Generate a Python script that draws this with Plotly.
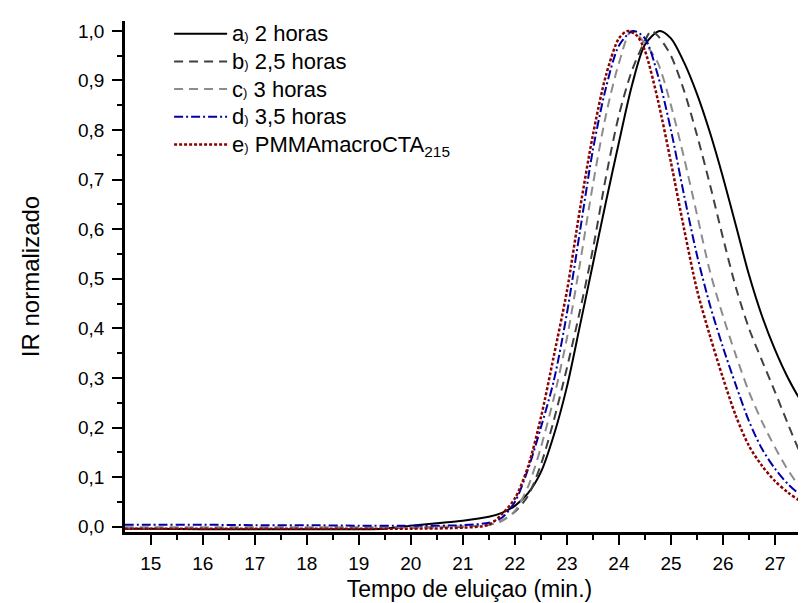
import plotly.graph_objects as go

# ---- data (elution time in min, normalized RI) ----
x_a = [14.5, 15, 16, 17, 18, 19, 19.5, 20, 20.5, 21, 21.5, 21.75, 22.0, 22.25, 22.5, 22.75, 23.0, 23.25,
       23.5, 23.75, 24.0, 24.25, 24.5, 24.78, 25.0, 25.25, 25.5, 25.75, 26.0, 26.25, 26.5, 26.75, 27.0,
       27.25, 27.5, 27.75]
y_a = [-0.004, -0.004, -0.005, -0.005, -0.005, -0.005, -0.004, 0.002, 0.007, 0.012, 0.02, 0.028, 0.042,
       0.067, 0.11, 0.185, 0.282, 0.405, 0.53, 0.655, 0.775, 0.89, 0.972, 1.0, 0.985, 0.937, 0.873, 0.795,
       0.705, 0.607, 0.508, 0.425, 0.357, 0.3, 0.254, 0.22]

x_b = [14.5, 15, 16, 17, 18, 19, 20, 21, 21.5, 21.75, 22.0, 22.25, 22.5, 22.75, 23.0, 23.25, 23.5,
       23.75, 24.0, 24.25, 24.5, 24.62, 24.75, 25.0, 25.25, 25.5, 25.75, 26.0, 26.25, 26.5, 26.75, 27.0,
       27.25, 27.5, 27.75]
y_b = [-0.003, -0.003, -0.003, -0.003, -0.003, -0.003, -0.002, 0.0, 0.004, 0.012, 0.03, 0.062, 0.125,
       0.215, 0.32, 0.435, 0.56, 0.705, 0.83, 0.92, 0.98, 1.0, 0.99, 0.95, 0.88, 0.79, 0.69, 0.583, 0.482,
       0.4, 0.335, 0.272, 0.207, 0.145, 0.095]

x_c = [14.5, 15, 16, 17, 18, 19, 20, 21, 21.5, 21.75, 22.0, 22.25, 22.5, 22.75, 23.0, 23.25, 23.5,
       23.75, 24.0, 24.24, 24.5, 24.75, 25.0, 25.25, 25.5, 25.75, 26.0, 26.25, 26.5, 26.75, 27.0, 27.25,
       27.5, 27.75]
y_c = [-0.001, -0.001, -0.001, -0.001, -0.001, -0.001, -0.001, 0.001, 0.004, 0.012, 0.032, 0.08, 0.16,
       0.26, 0.38, 0.53, 0.69, 0.83, 0.935, 1.0, 0.975, 0.935, 0.85, 0.745, 0.63, 0.515, 0.425, 0.345,
       0.272, 0.212, 0.16, 0.114, 0.078, 0.055]

x_d = [14.5, 15, 16, 17, 18, 19, 20, 21, 21.5, 21.75, 22.0, 22.25, 22.5, 22.75, 23.0, 23.25, 23.5,
       23.75, 24.0, 24.27, 24.5, 24.75, 25.0, 25.25, 25.5, 25.75, 26.0, 26.25, 26.5, 26.75, 27.0, 27.25,
       27.5, 27.75]
y_d = [0.004, 0.004, 0.004, 0.003, 0.003, 0.002, 0.002, 0.003, 0.008, 0.018, 0.05, 0.115, 0.2, 0.295,
       0.43, 0.595, 0.76, 0.885, 0.97, 1.0, 0.985, 0.91, 0.8, 0.67, 0.548, 0.447, 0.362, 0.285, 0.213,
       0.157, 0.117, 0.086, 0.063, 0.046]

x_e = [14.5, 15, 16, 17, 18, 19, 20, 21, 21.5, 21.75, 22.0, 22.25, 22.5, 22.75, 23.0, 23.25, 23.5,
       23.75, 24.0, 24.17, 24.35, 24.5, 24.75, 25.0, 25.25, 25.5, 25.75, 26.0, 26.25, 26.5, 26.75, 27.0,
       27.25, 27.5, 27.75]
y_e = [-0.004, -0.004, -0.004, -0.004, -0.004, -0.004, -0.004, -0.002, 0.004, 0.025, 0.057, 0.12, 0.22,
       0.345, 0.475, 0.64, 0.79, 0.91, 0.985, 1.0, 0.99, 0.96, 0.86, 0.735, 0.602, 0.478, 0.385, 0.3,
       0.223, 0.163, 0.123, 0.092, 0.069, 0.051, 0.037]

labels = ["a", "b", "c", "d", "e"]
texts = ["2 horas", "2,5 horas", "3 horas", "3,5 horas", "PMMAmacroCTA<sub>215</sub>"]
names = [f"<span style='font-size:22px'>{l}<span style='font-size:13px'>)</span> {t}</span>"
         for l, t in zip(labels, texts)]

series = [(x_a, y_a), (x_b, y_b), (x_c, y_c), (x_d, y_d), (x_e, y_e)]
colors = ["#000000", "#404040", "#8c8c8c", "#0000a8", "#8b0000"]
dashes = ["solid", "9px,6px", "9px,6px", "9px,3px,2px,3px", "3px,2px"]
widths = [2, 2, 2, 2, 2.5]

fig = go.Figure()
for i, ((xs, ys), nm) in enumerate(zip(series, names)):
    fig.add_trace(go.Scatter(
        x=xs, y=ys, mode="lines", name=nm, legendgroup=str(i),
        line=dict(color=colors[i], dash=dashes[i], width=widths[i], shape="spline", smoothing=0.8),
    ))

font_family = "Arial, 'Liberation Sans', sans-serif"
fig.update_layout(
    width=806, height=603,
    margin=dict(l=117, r=0, t=13, b=79),
    paper_bgcolor="white", plot_bgcolor="white",
    separators=", ",
    font=dict(family=font_family, color="black", size=19),
    showlegend=True,
    legend=dict(x=0.064, y=1.012, xanchor="left", yanchor="top", bgcolor="rgba(0,0,0,0)",
                font=dict(size=19, family=font_family), tracegroupgap=0,
                traceorder="grouped", itemwidth=53),
    xaxis=dict(range=[14.506, 27.75], tickmode="linear", tick0=15, dtick=1,
               showline=True, linecolor="black", linewidth=2.5, mirror=False,
               ticks="outside", ticklen=10, tickwidth=2, tickcolor="black", ticklabelstandoff=2,
               minor=dict(dtick=0.5, tick0=14.5, ticks="outside", ticklen=5, tickwidth=2, tickcolor="black"),
               showgrid=False, zeroline=False, tickfont=dict(size=19),
               title=dict(text="Tempo de eluiçao (min.)", font=dict(size=23), standoff=9)),
    yaxis=dict(range=[-0.0107, 1.020], tickmode="linear", tick0=0, dtick=0.1, tickformat=".1f",
               showline=True, linecolor="black", linewidth=2.5,
               ticks="outside", ticklen=10, tickwidth=2, tickcolor="black", ticklabelstandoff=4,
               minor=dict(dtick=0.05, tick0=0, ticks="outside", ticklen=5, tickwidth=2, tickcolor="black"),
               showgrid=False, zeroline=False, tickfont=dict(size=19),
               title=dict(text="IR normalizado", font=dict(size=24), standoff=32)),
)

fig.write_html("out.html")
